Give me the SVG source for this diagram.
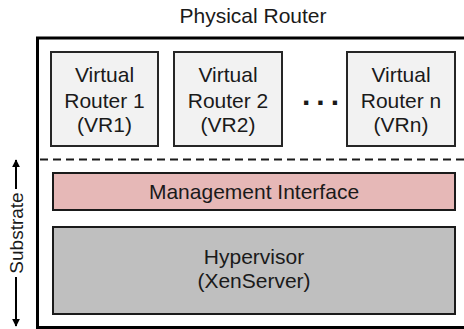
<svg xmlns="http://www.w3.org/2000/svg" width="464" height="329" viewBox="0 0 464 329">
  <style>
    text { font-family: "Liberation Sans", Arial, sans-serif; fill: #1a1a1a; }
    .lbl { font-size: 21px; text-anchor: middle; }
    .side { font-size: 19px; text-anchor: middle; }
    .vr { fill: #f2f2f2; stroke: #262626; stroke-width: 2; }
    .mgmt { fill: #e6b8b7; stroke: #1a1a1a; stroke-width: 2; }
    .hyp { fill: #bfbfbf; stroke: #1a1a1a; stroke-width: 2; }
    .frame { fill: none; stroke: #000; stroke-width: 3; }
    .split { stroke: #1a1a1a; stroke-width: 2; stroke-dasharray: 8 5; fill: none; }
    .axis { stroke: #000; stroke-width: 2; fill: none; }
  </style>
  <defs>
    <marker id="head" viewBox="0 0 10 10" refX="9" refY="5" markerWidth="4" markerHeight="4" orient="auto-start-reverse" markerUnits="strokeWidth">
      <path d="M0,0 L10,5 L0,10 z" fill="#000"/>
    </marker>
  </defs>
  <rect width="464" height="329" fill="#fff"/>

  <!-- physical router enclosure -->
  <g id="physical-router">
    <text class="lbl" x="253" y="23">Physical Router</text>
    <rect class="frame" x="37.5" y="38" width="440" height="289.5"/>
    <line class="split" x1="40" y1="159.5" x2="464" y2="159.5"/>
  </g>

  <g id="vr1">
    <rect class="vr" x="51" y="52" width="107" height="94"/>
    <text class="lbl" x="104.5" y="82">Virtual</text>
    <text class="lbl" x="104.5" y="107.5">Router 1</text>
    <text class="lbl" x="104.5" y="132">(VR1)</text>
  </g>

  <g id="vr2">
    <rect class="vr" x="174" y="52" width="108" height="94"/>
    <text class="lbl" x="228" y="82">Virtual</text>
    <text class="lbl" x="228" y="107.5">Router 2</text>
    <text class="lbl" x="228" y="132">(VR2)</text>
  </g>

  <g id="ellipsis">
    <text x="302" y="105" style="font-size:30px;font-weight:bold;letter-spacing:6px">...</text>
  </g>

  <g id="vrn">
    <rect class="vr" x="347" y="52" width="108" height="94"/>
    <text class="lbl" x="401" y="82">Virtual</text>
    <text class="lbl" x="401" y="107.5">Router n</text>
    <text class="lbl" x="401" y="132">(VRn)</text>
  </g>

  <g id="management-interface">
    <rect class="mgmt" x="53" y="173" width="402" height="37"/>
    <text class="lbl" x="254" y="199">Management Interface</text>
  </g>

  <g id="hypervisor">
    <rect class="hyp" x="53" y="227" width="402" height="87"/>
    <text class="lbl" x="254" y="264">Hypervisor</text>
    <text class="lbl" x="254" y="288">(XenServer)</text>
  </g>

  <!-- substrate extent -->
  <g id="connectors">
    <line class="axis" x1="16" y1="189" x2="16" y2="160" marker-end="url(#head)"/>
    <line class="axis" x1="16" y1="277" x2="16" y2="326" marker-end="url(#head)"/>
  </g>
  <g id="substrate">
    <text class="side" transform="translate(22.5 233) rotate(-90)" x="0" y="0">Substrate</text>
  </g>
</svg>
